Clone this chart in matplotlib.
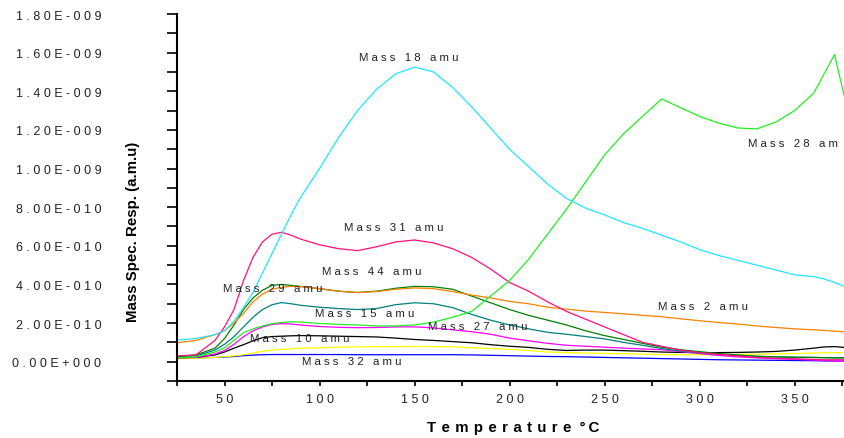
import numpy as np
import matplotlib
matplotlib.use("Agg")
import matplotlib.pyplot as plt
from matplotlib.ticker import MultipleLocator, FuncFormatter

plt.rcParams["font.family"] = ["Liberation Sans", "DejaVu Sans"]

# temperature grid (deg C)
temp_c = [25, 35, 45, 50, 55, 60, 65, 70, 75, 80, 85, 90, 100, 110, 120, 130, 140,
          150, 160, 170, 180, 190, 200, 210, 220, 230, 240, 250, 260, 270, 280,
          290, 300, 310, 320, 330, 340, 350, 360, 365, 371, 376]

# responses, in units of 1e-10 a.m.u
mass18 = [1.12, 1.2, 1.4, 1.6, 2.1, 2.8, 3.6, 4.6, 5.6, 6.6, 7.6, 8.5, 10.0, 11.6, 13.0,
          14.1, 14.9, 15.25, 15.0, 14.2, 13.2, 12.1, 11.0, 10.1, 9.2, 8.45, 7.95, 7.6,
          7.2, 6.9, 6.55, 6.2, 5.8, 5.5, 5.25, 5.0, 4.75, 4.5, 4.4, 4.3, 4.1, 3.9]
mass28 = [0.2, 0.25, 0.5, 0.72, 1.1, 1.5, 1.7, 1.85, 1.97, 2.03, 2.07, 2.05, 1.98, 1.93,
          1.9, 1.85, 1.85, 1.9, 2.05, 2.3, 2.6, 3.4, 4.2, 5.3, 6.6, 7.9, 9.3, 10.7,
          11.8, 12.7, 13.6, 13.15, 12.7, 12.35, 12.1, 12.05, 12.4, 13.0, 13.9, 14.8,
          15.9, 13.8]
mass31 = [0.3, 0.35, 1.1, 1.8, 2.7, 4.2, 5.4, 6.2, 6.6, 6.7, 6.55, 6.35, 6.05, 5.85,
          5.75, 5.95, 6.2, 6.3, 6.15, 5.85, 5.4, 4.8, 4.1, 3.65, 3.1, 2.6, 2.2, 1.8,
          1.4, 1.0, 0.8, 0.6, 0.47, 0.38, 0.3, 0.22, 0.18, 0.15, 0.12, 0.1, 0.1, 0.1]
mass2 = [0.98, 1.1, 1.4, 1.6, 2.0, 2.5, 3.1, 3.5, 3.75, 3.85, 3.9, 3.88, 3.78, 3.65,
         3.58, 3.63, 3.75, 3.82, 3.78, 3.63, 3.45, 3.3, 3.12, 3.0, 2.82, 2.72, 2.62,
         2.55, 2.48, 2.4, 2.33, 2.22, 2.12, 2.03, 1.95, 1.85, 1.77, 1.7, 1.65, 1.62,
         1.58, 1.55]
mass44 = [0.26, 0.35, 0.7, 1.2, 1.9, 2.7, 3.3, 3.7, 3.95, 4.0, 3.95, 3.9, 3.78, 3.65,
          3.58, 3.65, 3.8, 3.9, 3.88, 3.75, 3.4, 3.05, 2.7, 2.4, 2.15, 1.9, 1.6, 1.35,
          1.15, 0.95, 0.75, 0.62, 0.52, 0.42, 0.35, 0.28, 0.25, 0.23, 0.22, 0.21, 0.2, 0.2]
mass15 = [0.26, 0.3, 0.6, 0.9, 1.3, 1.8, 2.3, 2.7, 2.95, 3.06, 3.0, 2.92, 2.82, 2.75,
          2.7, 2.75, 2.95, 3.05, 3.0, 2.8, 2.45, 2.15, 1.9, 1.7, 1.52, 1.42, 1.3, 1.18,
          1.0, 0.85, 0.68, 0.55, 0.45, 0.38, 0.33, 0.28, 0.25, 0.23, 0.22, 0.21, 0.2, 0.2]
mass27 = [0.2, 0.22, 0.4, 0.58, 0.9, 1.3, 1.6, 1.8, 1.93, 1.97, 1.95, 1.9, 1.82, 1.78,
          1.76, 1.77, 1.8, 1.8, 1.75, 1.65, 1.55, 1.42, 1.22, 1.08, 0.95, 0.85, 0.8,
          0.75, 0.7, 0.66, 0.62, 0.52, 0.42, 0.32, 0.25, 0.2, 0.15, 0.12, 0.08, 0.06,
          0.03, 0.02]
mass10 = [0.2, 0.22, 0.35, 0.5, 0.7, 0.88, 1.08, 1.24, 1.3, 1.32, 1.34, 1.35, 1.34,
          1.32, 1.3, 1.28, 1.22, 1.15, 1.1, 1.04, 0.98, 0.88, 0.8, 0.74, 0.64, 0.58,
          0.6, 0.6, 0.57, 0.54, 0.5, 0.48, 0.47, 0.47, 0.48, 0.5, 0.53, 0.6, 0.7, 0.76,
          0.78, 0.74]
unlabeled = [0.15, 0.18, 0.22, 0.26, 0.3, 0.36, 0.45, 0.54, 0.6, 0.64, 0.67, 0.7, 0.72,
             0.75, 0.77, 0.78, 0.78, 0.79, 0.78, 0.77, 0.72, 0.68, 0.64, 0.58, 0.5,
             0.47, 0.45, 0.43, 0.41, 0.39, 0.37, 0.36, 0.36, 0.37, 0.38, 0.39, 0.4,
             0.42, 0.45, 0.46, 0.47, 0.47]
mass32 = [0.2, 0.2, 0.22, 0.24, 0.27, 0.31, 0.34, 0.36, 0.37, 0.37, 0.37, 0.37, 0.37,
          0.37, 0.36, 0.36, 0.36, 0.36, 0.36, 0.36, 0.35, 0.33, 0.31, 0.29, 0.27, 0.26,
          0.24, 0.22, 0.2, 0.18, 0.16, 0.14, 0.12, 0.1, 0.09, 0.08, 0.07, 0.06, 0.05,
          0.04, 0.03, 0.03]

series = [
    (mass32, "#0000ff"),
    (unlabeled, "#ffff00"),
    (mass10, "#000000"),
    (mass27, "#ff00ff"),
    (mass15, "#008080"),
    (mass44, "#008000"),
    (mass2, "#ff8000"),
    (mass31, "#ff0f80"),
    (mass28, "#22ee22"),
    (mass18, "#1ee8ff"),
]

# annotation text as it shows in the picture (the 28 one runs off the edge there)
label_text = ["Mass 18 amu", "Mass 28 am", "Mass 31 amu", "Mass 44 amu", "Mass 29 amu",
              "Mass 15 amu", "Mass 27 amu", "Mass 10 amu", "Mass 32 amu", "Mass 2 amu"]
label_x = [120.8, 325.5, 112.9, 101.3, 49.2, 97.6, 157.1, 63.4, 90.8, 278.2]
label_y = [15.77, 11.3, 6.95, 4.67, 3.84, 2.54, 1.87, 1.24, 0.05, 2.9]

GAP = " "


def spaced(s, gap=GAP):
    return gap.join(s)


def sci_label(v, pos):
    real = v * 1e-10
    if abs(real) < 1e-20:
        s = "0.00E+000"
    else:
        exp = int(np.floor(np.log10(abs(real)) + 1e-9))
        man = real / 10 ** exp
        s = f"{man:.2f}E{'+' if exp >= 0 else '-'}{abs(exp):03d}"
    return spaced(s)


fig = plt.figure(figsize=(8.44, 4.39), dpi=100)
ax = fig.add_axes([177 / 844, 1 - 382 / 439, 667 / 844, 367 / 439])

for vals, color in series:
    ax.plot(temp_c, vals, color=color, linewidth=0.9)

for txt, x, y in zip(label_text, label_x, label_y):
    ax.text(x, y, spaced(txt), fontsize=8.2, color="#222222", ha="left", va="center")

ax.set_xlim(25, 376)
ax.set_ylim(-1.0, 18.0)
ax.xaxis.set_major_locator(MultipleLocator(50))
ax.xaxis.set_minor_locator(MultipleLocator(25))
ax.yaxis.set_major_locator(MultipleLocator(2))
ax.yaxis.set_minor_locator(MultipleLocator(1))
ax.yaxis.set_major_formatter(FuncFormatter(sci_label))
ax.xaxis.set_major_formatter(FuncFormatter(lambda v, p: spaced(f"{v:.0f}")))

for side in ("top", "right"):
    ax.spines[side].set_visible(False)
for side in ("left", "bottom"):
    ax.spines[side].set_linewidth(1.5)

ax.tick_params(axis="y", which="both", direction="out", length=7, width=1.2,
               pad=47.5, labelsize=9, labelcolor="#222222")
ax.tick_params(axis="x", which="both", direction="out", length=3.5, width=1.2,
               pad=5.5, labelsize=9, labelcolor="#222222")

ax.set_ylabel("Mass Spec. Resp. (a.m.u)", fontsize=10.8, fontweight="bold")
ax.yaxis.set_label_coords(-0.0555, 0.41)
ax.set_xlabel(spaced("Temperature", " \u200a") + "  °\u2009C", fontsize=10.8,
              fontweight="bold")
ax.xaxis.set_label_coords(0.504, -0.106)

fig.savefig("out.png", dpi=100)
